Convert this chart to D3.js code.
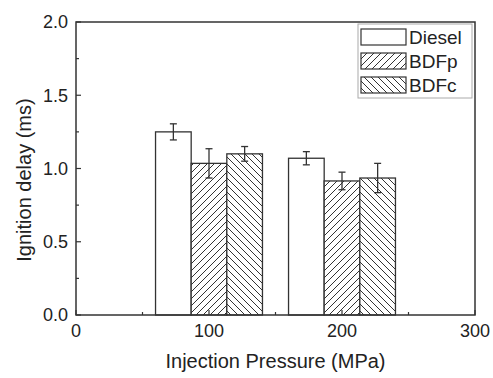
<!DOCTYPE html>
<html>
<head>
<meta charset="utf-8">
<script src="https://cdn.jsdelivr.net/npm/d3@7"></script>
<style>
  body { margin: 0; background: #fff; }
  text { font-family: "Liberation Sans", Arial, sans-serif; fill: #222; }
</style>
</head>
<body>
<div id="chart"></div>
<script>
// data
const pressures = [100, 200];
const fuels = ["Diesel", "BDFp", "BDFc"];
const diesel = [1.25, 1.07];
const dieselErr = [0.055, 0.045];
const bdfp = [1.035, 0.915];
const bdfpErr = [0.10, 0.06];
const bdfc = [1.10, 0.935];
const bdfcErr = [0.05, 0.10];
const yTicks = [0, 0.5, 1.0, 1.5, 2.0];
const xTicks = [0, 100, 200, 300];

const values = [diesel, bdfp, bdfc];
const errs = [dieselErr, bdfpErr, bdfcErr];

let width = 493, height = 378;
let margin = {top: 22, right: 18, bottom: 63, left: 76};
const barW = 26.8; // bar width in MPa

const svg = d3.select("#chart")
  .append("svg")
    .attr("width", width)
    .attr("height", height);

const defs = svg.append("defs");
function hatch(id, dir) {
  const p = defs.append("pattern")
    .attr("id", id)
    .attr("patternUnits", "userSpaceOnUse")
    .attr("width", 7).attr("height", 7);
  p.append("rect").attr("width", 7).attr("height", 7).attr("fill", "#fff");
  const d = dir > 0
    ? "M-1,1 l2,-2 M0,7 l7,-7 M6,8 l2,-2"
    : "M-1,6 l2,2 M0,0 l7,7 M6,-1 l2,2";
  p.append("path").attr("d", d).attr("stroke", "#333").attr("stroke-width", 1);
}
hatch("hp", 1);
hatch("hc", -1);
const fills = ["#fff", "url(#hp)", "url(#hc)"];

let x = d3.scaleLinear().domain([0, 300]).range([margin.left, width - margin.right]);
let y = d3.scaleLinear().domain([0, 2]).range([height - margin.bottom, margin.top]);

// bars
fuels.forEach((f, i) => {
  const g = svg.append("g");
  g.selectAll("rect")
    .data(pressures)
    .enter()
    .append("rect")
      .attr("x", (d) => x(d + (i - 1) * barW - barW / 2))
      .attr("y", (d, j) => y(values[i][j]))
      .attr("width", (d) => x(d + barW / 2) - x(d - barW / 2))
      .attr("height", (d, j) => y(0) - y(values[i][j]))
      .attr("fill", fills[i])
      .attr("stroke", "#333")
      .attr("stroke-width", 1.3);

  // error bars
  pressures.forEach((p, j) => {
    const cx = x(p + (i - 1) * barW);
    const lo = y(values[i][j] - errs[i][j]), hi = y(values[i][j] + errs[i][j]);
    g.append("line").attr("x1", cx).attr("x2", cx).attr("y1", lo).attr("y2", hi)
      .attr("stroke", "#333").attr("stroke-width", 1.3);
    [lo, hi].forEach(v => {
      g.append("line").attr("x1", cx - 3.5).attr("x2", cx + 3.5).attr("y1", v).attr("y2", v)
        .attr("stroke", "#333").attr("stroke-width", 1.3);
    });
  });
});

// frame
svg.append("rect")
  .attr("x", x(0)).attr("y", y(2))
  .attr("width", x(300) - x(0)).attr("height", y(0) - y(2))
  .attr("fill", "none").attr("stroke", "#333").attr("stroke-width", 1.5);

// y axis ticks (inward)
const yAxis = svg.append("g").attr("transform", "translate(" + x(0) + ",0)");
yAxis.selectAll("line.minor")
  .data(d3.range(0.25, 2, 0.5))
  .enter().append("line")
    .attr("x1", 0).attr("x2", 3)
    .attr("y1", d => y(d)).attr("y2", d => y(d))
    .attr("stroke", "#333").attr("stroke-width", 1.2);
yAxis.selectAll("line.major")
  .data(yTicks)
  .enter().append("line")
    .attr("x1", 0).attr("x2", 5)
    .attr("y1", d => y(d)).attr("y2", d => y(d))
    .attr("stroke", "#333").attr("stroke-width", 1.2);
yAxis.selectAll("text")
  .data(yTicks)
  .enter().append("text")
    .attr("x", -8)
    .attr("y", d => y(d))
    .attr("dy", "0.36em")
    .attr("text-anchor", "end")
    .style("font-size", "18px")
    .text(d => d3.format(".1f")(d));

// x axis ticks (inward)
const xAxis = svg.append("g").attr("transform", "translate(0," + y(0) + ")");
xAxis.selectAll("line.minor")
  .data([50, 150, 250])
  .enter().append("line")
    .attr("x1", d => x(d)).attr("x2", d => x(d))
    .attr("y1", 0).attr("y2", -3)
    .attr("stroke", "#333").attr("stroke-width", 1.2);
xAxis.selectAll("line.major")
  .data(xTicks)
  .enter().append("line")
    .attr("x1", d => x(d)).attr("x2", d => x(d))
    .attr("y1", 0).attr("y2", -5)
    .attr("stroke", "#333").attr("stroke-width", 1.2);
xAxis.selectAll("text")
  .data(xTicks)
  .enter().append("text")
    .attr("x", d => x(d))
    .attr("y", 22)
    .attr("text-anchor", "middle")
    .style("font-size", "18px")
    .text(d => d);

// axis titles
svg.append("text")
  .attr("x", (x(0) + x(300)) / 2)
  .attr("y", 368)
  .attr("text-anchor", "middle")
  .style("font-size", "20px")
  .text("Injection Pressure (MPa)");

svg.append("text")
  .attr("transform", "translate(31,180) rotate(-90)")
  .attr("text-anchor", "middle")
  .style("font-size", "20px")
  .text("Ignition delay (ms)");

// legend
const leg = svg.append("g");
leg.append("rect")
  .attr("x", 358).attr("y", 24).attr("width", 114).attr("height", 74)
  .attr("fill", "#fff").attr("stroke", "#aaa").attr("stroke-width", 1);
fuels.forEach((f, i) => {
  leg.append("rect")
    .attr("x", 361).attr("y", 29 + i * 24)
    .attr("width", 45).attr("height", 16)
    .attr("fill", fills[i]).attr("stroke", "#333").attr("stroke-width", 1.2);
  leg.append("text")
    .attr("x", 409).attr("y", 43.5 + i * 24)
    .style("font-size", "19px")
    .text(f);
});
</script>
</body>
</html>
